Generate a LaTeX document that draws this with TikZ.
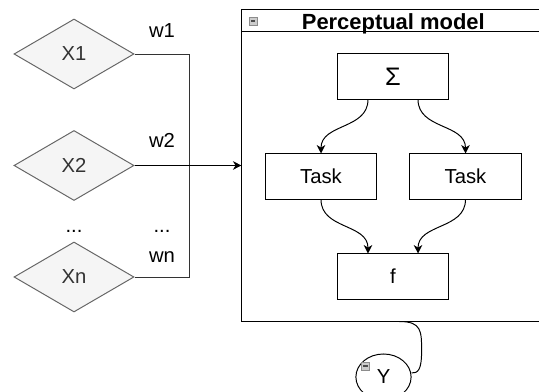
\documentclass[tikz,border=0pt]{standalone}
\usepackage{fontspec}
\setmainfont{Liberation Sans}
\usetikzlibrary{arrows.meta,shapes.geometric}

\begin{document}
\begin{tikzpicture}[x=0.025cm, y=-0.025cm, line width=0.7pt,
		every node/.style={font=\fontsize{14.4}{17}\selectfont},
		input/.style={diamond, draw=black!60, fill=black!4, text=black!80, inner sep=0pt, minimum width=3cm, minimum height=1.75cm},
		block/.style={draw, rectangle, minimum width=2.78cm, minimum height=1.125cm},
		weight/.style={anchor=base, inner sep=0pt},
		collapse/.style={draw=black!45, fill=black!20, line width=0.4pt, minimum size=0.2cm, inner sep=0pt,
			path picture={\draw[black!70, line width=0.8pt] ([xshift=1.3pt]path picture bounding box.west) -- ([xshift=-1.3pt]path picture bounding box.east);}},
		flow/.style={-{Stealth[length=6pt, width=6pt, inset=1.8pt]}}]
	%%%%% START %%%%%
	\useasboundingbox (0, 0) rectangle (539, 392);
	\clip (0, 0) rectangle (539, 392);
	
	% inputs and their weights
	\node[input] (x1) at (74, 54) {X1};
	\node[input] (x2) at (74, 165.5) {X2};
	\node[input] (xn) at (74, 277) {Xn};
	\node[weight] (dotsx) at (74, 233) {...};
	
	\node[weight] (w1) at (162, 38) {w1};
	\node[weight] (w2) at (162, 148) {w2};
	\node[weight] (dotsw) at (162, 233) {...};
	\node[weight] (wn) at (162, 263) {wn};
	
	% container
	\node[draw, minimum width=7.575cm, minimum height=7.775cm, inner sep=0pt] (model) at (393.5, 165.5) {};
	\draw ([yshift=-0.55cm]model.north west) -- ([yshift=-0.55cm]model.north east);
	\node[anchor=base, inner sep=0pt, font=\fontsize{15.6}{18}\selectfont\bfseries] (title) at (393.3, 30) {Perceptual model};
	\node[collapse] (modelicon) at (253, 21) {};
	
	\node[block, font=\fontsize{18}{20}\selectfont] (sum) at (393, 76.5) {Σ};
	\node[block] (taskA) at (321, 176.5) {Task};
	\node[block] (taskB) at (465.5, 176.5) {Task};
	\node[block] (f) at (393, 276.5) {f};
	
	\node[draw, ellipse, minimum width=1.38cm, minimum height=1.15cm, inner sep=0pt] (y) at (383.5, 377) {Y};
	\node[collapse] (yicon) at (365.5, 366) {};
	
	% weighted sum into the model
	\coordinate (bustop) at (189, 54);
	\coordinate (busbot) at (189, 277);
	\draw[black!80] (x1.east) -- (bustop) -- (busbot) -- (xn.east);
	\draw[flow] (x2.east) -- (model.west);
	
	\draw[flow] ([xshift=-0.625cm]sum.south) .. controls +(0, 30) and +(0, -30) .. (taskA.north);
	\draw[flow] ([xshift=0.625cm]sum.south) .. controls +(0, 30) and +(0, -30) .. (taskB.north);
	\draw[flow] (taskA.south) .. controls +(0, 30) and +(0, -30) .. ([xshift=-0.625cm]f.north);
	\draw[flow] (taskB.south) .. controls +(0, 30) and +(0, -30) .. ([xshift=0.625cm]f.north);
	
	% output
	\draw ([xshift=0.15cm]model.south) .. controls +(22, 0) and +(0, -20) .. ([xshift=0.25cm, yshift=0.65cm]y.east)
		.. controls +(0, 20) and +(6, 0) .. ([yshift=0.1cm]y.east);
	%%%%% END %%%%%
\end{tikzpicture}
\end{document}
